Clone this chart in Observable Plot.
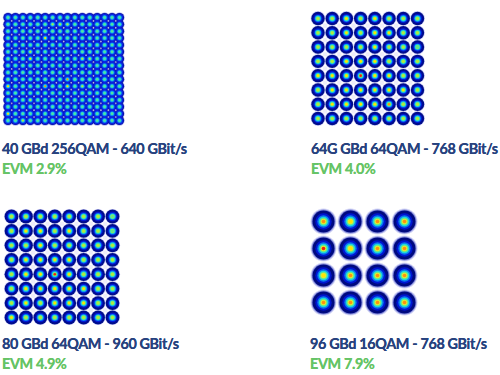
<!DOCTYPE html>
<html>
<head>
<meta charset="utf-8">
<script src="https://cdn.jsdelivr.net/npm/d3@7"></script>
<script src="https://cdn.jsdelivr.net/npm/@observablehq/plot@0.6"></script>
<style>
html,body{margin:0;padding:0;background:#fff;width:500px;height:375px;overflow:hidden}
#root{position:relative;width:500px;height:375px;font-family:Lato,sans-serif;font-weight:700}
.panel{position:absolute}
.panel svg{display:block;filter:blur(.7px);overflow:visible;background:none}
.label{position:absolute;white-space:nowrap;line-height:1;letter-spacing:-.35px;font-size:14.4px;text-shadow:0 0 .6px currentColor}
.rate{color:#27427e}
.evm{color:#66c466}
</style>
</head>
<body>
<div id="root"></div>
<script>
const titles = ["40 GBd 256QAM - 640 GBit/s","64G GBd 64QAM - 768 GBit/s","80 GBd 64QAM - 960 GBit/s","96 GBd 16QAM - 768 GBit/s"];
const evms = ["EVM 2.9%","EVM 4.0%","EVM 4.9%","EVM 7.9%"];
const orders = [16,8,8,4];
const peakColors = ["#58e498","#b0ea40","#ffe400","#ff9010","#f02010"];

// Peak intensity of each constellation point, read row by row (index into peakColors)
const peaks256 = [
"0000000000000000",
"0000001110000000",
"0000000000000000",
"0000020000000000",
"0000000000000000",
"0001000000000000",
"0002000000110000",
"0000000000000000",
"0000000000000000",
"0000000030000000",
"2000030020100000",
"0000000000000000",
"0001000000000000",
"0000000000000000",
"2000000000000000",
"0010000000000000"];
const peaks64a = [
"11212111",
"11212211",
"11112110",
"11222111",
"22242211",
"12222221",
"12222311",
"11111111"];
const peaks64b = [
"11111110",
"12212110",
"11211111",
"12222111",
"12242111",
"12222211",
"12122211",
"21111111"];
const peaks16 = [
"3233",
"4233",
"2333",
"3333"];

// Ring colours drawn outwards-in around each symbol
const rings256 = [["#b4baf0",5.2],["#0610a8",4.6],["#0a24e0",3.7],["#0c70f0",2.5],["#18c0e8",1.9],["#40e0b8",1.3]];
const rings64a = [["#d0d2f6",7.4],["#000c8c",6.7],["#0018d8",4.6],["#0a78f0",3.4],["#18d8e0",2.7],["#60e890",2.1],["#a8e840",1.6]];
const rings64b = [["#d0d2f6",7.6],["#000c8c",6.9],["#0018d8",4.8],["#0a78f0",3.6],["#18d8e0",2.8],["#60e890",2.2],["#a8e840",1.7]];
const rings16 = [["#d4d6f6",13],["#8088d8",12],["#000a80",11],["#0016d0",8.2],["#0a78f0",6.2],["#18d8e0",4.8],["#60e890",3.8],["#e0ec30",2.8]];

const peakSizes = [1,1.3,1.3,1.8];
const gapOpacity = [.4,.9,.9,0];
const gapSizes = [1.1,2.3,2.3,0];
const peakTables = [peaks256,peaks64a,peaks64b,peaks16];
const ringTables = [rings256,rings64a,rings64b,rings16];

const lefts = [0,300,0,300], tops = [0,0,195,195];
const xRanges = [[7.5,119],[17.5,117],[11,112],[23,104]];
const yRanges = [[17,120],[18,118],[21,122],[26,107]];
const textX = [2,311,2,310], textY = [142,142,337,337];

const root = document.getElementById("root");
orders.forEach((n,k)=>{
  const levels = d3.range(n).map(i=>2*i-n+1);
  const symbols = levels.flatMap((q,r)=>levels.map((i,c)=>({i,q,peak:+peakTables[k][r][c]})));
  const gaps = d3.range(n-1).flatMap(r=>d3.range(n-1).map(c=>({i:levels[c]+1,q:levels[r]+1})));
  const marks = ringTables[k].map(([color,r])=>
    Plot.dot(symbols,{x:"i",y:"q",r,fill:color,stroke:"none"}));
  if (gapOpacity[k]>0) marks.push(Plot.dot(gaps,{x:"i",y:"q",r:gapSizes[k],fill:"#ecebfa",fillOpacity:gapOpacity[k],stroke:"none"}));
  marks.push(Plot.dot(symbols,{x:"i",y:"q",r:peakSizes[k],fill:d=>peakColors[d.peak],stroke:"none"}));
  const chart = Plot.plot({
    width:140,height:140,margin:0,
    x:{axis:null,domain:[levels[0],levels[n-1]],range:xRanges[k]},
    y:{axis:null,domain:[levels[0],levels[n-1]],range:yRanges[k]},
    style:{background:"transparent"},
    marks
  });
  const box=document.createElement("div");
  box.className="panel";box.style.left=lefts[k]+"px";box.style.top=tops[k]+"px";
  box.appendChild(chart);root.appendChild(box);
  [[titles[k],"rate",textY[k]],[evms[k],"evm",textY[k]+20]].forEach(([t,c,y])=>{
    const el=document.createElement("div");
    el.className="label "+c;el.textContent=t;el.style.left=textX[k]+"px";el.style.top=y+"px";
    root.appendChild(el);
  });
});
</script>
</body>
</html>
